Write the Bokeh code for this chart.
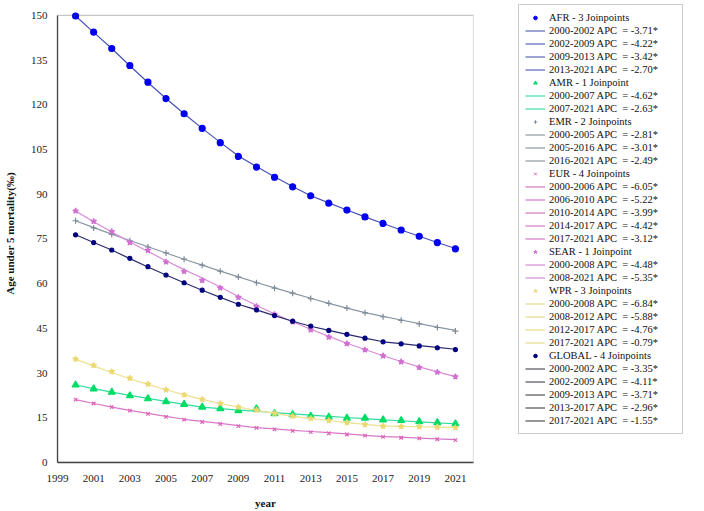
from bokeh.plotting import figure
from bokeh.layouts import row
from bokeh.models import Legend, LegendItem, FixedTicker, ColumnDataSource, BoxAnnotation
from bokeh.embed import file_html
from bokeh.resources import INLINE

# Under-5 mortality (per mille) by WHO region, 2000-2021
years = list(range(2000, 2022))

regions = ["AFR", "AMR", "EMR", "EUR", "SEAR", "WPR", "GLOBAL"]

# observed rates
afr_obs = [149.8, 144.4, 138.9, 133.2, 127.6, 122.1, 117.0, 112.1, 107.3, 102.7, 99.1,
           95.7, 92.5, 89.5, 87.0, 84.7, 82.4, 80.2, 78.0, 75.9, 73.8, 71.7]
amr_obs = [26.0, 24.7, 23.6, 22.4, 21.4, 20.4, 19.5, 18.6, 18.1, 17.4, 18.0,
           16.4, 16.1, 15.6, 15.2, 14.9, 14.9, 14.3, 14.1, 13.7, 13.4, 13.0]
emr_obs = [81.1, 78.7, 76.5, 74.4, 72.3, 70.3, 68.2, 66.2, 64.2, 62.2, 60.3,
           58.5, 56.8, 55.0, 53.4, 51.8, 50.2, 48.9, 47.7, 46.5, 45.3, 44.1]
eur_obs = [21.1, 19.8, 18.6, 17.4, 16.3, 15.3, 14.4, 13.6, 12.9, 12.2, 11.6,
           11.1, 10.6, 10.2, 9.8, 9.4, 9.0, 8.6, 8.3, 8.1, 7.8, 7.5]
sear_obs = [84.4, 80.9, 77.5, 73.8, 71.2, 67.3, 64.1, 61.1, 58.6, 55.4, 52.4,
            49.7, 47.2, 44.5, 42.1, 39.9, 37.8, 35.8, 33.8, 31.9, 30.3, 28.8]
wpr_obs = [34.7, 32.6, 30.5, 28.3, 26.3, 24.4, 22.7, 21.2, 19.8, 18.6, 17.6,
           16.5, 15.6, 14.8, 14.1, 13.4, 12.7, 12.2, 12.1, 12.0, 11.9, 11.7]
global_obs = [76.4, 73.8, 71.3, 68.5, 65.7, 62.9, 60.3, 57.8, 55.4, 53.1, 51.2,
              49.3, 47.4, 45.8, 44.3, 43.0, 41.7, 40.5, 39.8, 39.1, 38.5, 37.9]

# joinpoint model fitted rates
afr_fit = [149.8, 144.3, 138.9, 133.1, 127.5, 122.1, 117.0, 112.1, 107.4, 102.8, 99.3,
           95.9, 92.6, 89.5, 87.1, 84.7, 82.4, 80.2, 78.0, 75.9, 73.8, 71.8]
amr_fit = [26.0, 24.8, 23.6, 22.5, 21.5, 20.5, 19.5, 18.6, 18.1, 17.6, 17.2,
           16.7, 16.3, 15.9, 15.5, 15.1, 14.7, 14.3, 14.0, 13.6, 13.3, 13.0]
emr_fit = [81.1, 78.8, 76.6, 74.5, 72.4, 70.3, 68.2, 66.2, 64.2, 62.3, 60.4,
           58.6, 56.8, 55.1, 53.4, 51.8, 50.3, 49.0, 47.8, 46.6, 45.4, 44.3]
eur_fit = [21.1, 19.8, 18.6, 17.5, 16.5, 15.5, 14.5, 13.8, 13.1, 12.4, 11.7,
           11.3, 10.8, 10.4, 10.0, 9.6, 9.1, 8.7, 8.5, 8.2, 7.9, 7.7]
sear_fit = [84.4, 80.8, 77.3, 74.0, 70.8, 67.7, 64.7, 61.9, 58.9, 55.7, 52.7,
            49.9, 47.2, 44.7, 42.3, 40.0, 37.9, 35.8, 33.9, 32.1, 30.4, 28.8]
wpr_fit = [34.7, 32.4, 30.2, 28.1, 26.2, 24.4, 22.7, 21.2, 19.8, 18.6, 17.5,
           16.5, 15.5, 14.8, 14.1, 13.4, 12.8, 12.2, 12.1, 12.0, 11.9, 11.8]
global_fit = [76.4, 73.8, 71.3, 68.4, 65.6, 62.9, 60.3, 57.8, 55.4, 53.1, 51.2,
              49.3, 47.4, 45.7, 44.3, 43.0, 41.7, 40.5, 39.9, 39.2, 38.6, 38.0]

# joinpoint segments: (start year, end year, annual percent change)
afr_seg = [(2000, 2002, -3.71), (2002, 2009, -4.22), (2009, 2013, -3.42), (2013, 2021, -2.70)]
amr_seg = [(2000, 2007, -4.62), (2007, 2021, -2.63)]
emr_seg = [(2000, 2005, -2.81), (2005, 2016, -3.01), (2016, 2021, -2.49)]
eur_seg = [(2000, 2006, -6.05), (2006, 2010, -5.22), (2010, 2014, -3.99),
           (2014, 2017, -4.42), (2017, 2021, -3.12)]
sear_seg = [(2000, 2008, -4.48), (2008, 2021, -5.35)]
wpr_seg = [(2000, 2008, -6.84), (2008, 2012, -5.88), (2012, 2017, -4.76), (2017, 2021, -0.79)]
global_seg = [(2000, 2002, -3.35), (2002, 2009, -4.11), (2009, 2013, -3.71),
              (2013, 2017, -2.96), (2017, 2021, -1.55)]

x_ticks = list(range(1999, 2022, 2))
y_ticks = list(range(0, 151, 15))
x_lo, x_hi = 1999, 2022
y_lo, y_hi = 0, 150

styles = {
    "AFR": dict(marker="circle", mcolor="#0000ee", lcolor="#4552b8", kcolor="#5c66b8", size=6),
    "AMR": dict(marker="triangle", mcolor="#00dd66", lcolor="#30dc9c", kcolor="#44dca6", size=7),
    "EMR": dict(marker="cross", mcolor="#7d8a98", lcolor="#8a98a6", kcolor="#8a98a6", size=6),
    "EUR": dict(marker="x", mcolor="#e060b8", lcolor="#d678c8", kcolor="#d678c8", size=5),
    "SEAR": dict(marker="star", mcolor="#d070d0", lcolor="#d88ad8", kcolor="#d88ad8", size=6),
    "WPR": dict(marker="star", mcolor="#ecd870", lcolor="#eee08e", kcolor="#e8dc88", size=6),
    "GLOBAL": dict(marker="circle", mcolor="#000080", lcolor="#2a2a70", kcolor="#50505a", size=4),
}

series = {
    "AFR": (afr_obs, afr_fit, afr_seg),
    "AMR": (amr_obs, amr_fit, amr_seg),
    "EMR": (emr_obs, emr_fit, emr_seg),
    "EUR": (eur_obs, eur_fit, eur_seg),
    "SEAR": (sear_obs, sear_fit, sear_seg),
    "WPR": (wpr_obs, wpr_fit, wpr_seg),
    "GLOBAL": (global_obs, global_fit, global_seg),
}

SERIF = "Liberation Serif"

# main chart: the frame reaches a little above 150 so the legend panel beside
# it can start near the top of the page; the axes box is drawn at 0-150
TOP_PAD = 11  # pixels of frame above the 150 line
FRAME_H = 511 - 4 - 45
y_top = y_hi * FRAME_H / (FRAME_H - TOP_PAD)

p = figure(width=480, height=511, x_range=(x_lo, x_hi), y_range=(y_lo, y_top),
           output_backend="svg", toolbar_location=None,
           min_border_left=48, min_border_right=7, min_border_top=4,
           min_border_bottom=45)
p.xgrid.visible = False
p.ygrid.visible = False
p.outline_line_color = None
p.add_layout(BoxAnnotation(left=x_lo, right=x_hi, bottom=y_lo, top=y_hi,
                           fill_alpha=0, line_color="#444444", line_width=1.3))

# legend panel: a bare, untitled figure whose key glyphs share the chart's
# data sources (its 0-1 ranges keep those glyphs out of view)
lg = figure(width=224, height=511, x_range=(0, 1), y_range=(0, 1),
            x_axis_type=None, y_axis_type=None,
            output_backend="svg", toolbar_location=None,
            min_border_left=38, min_border_right=0, min_border_top=4,
            min_border_bottom=0)
lg.title_location = None
lg.xgrid.visible = False
lg.ygrid.visible = False
lg.outline_line_color = None

items = []
for name in regions:
    obs, fit, segs = series[name]
    st = styles[name]
    seg_keys = []
    for (a, b, apc) in segs:
        i0, i1 = years.index(a), years.index(b)
        src = ColumnDataSource(dict(x=years[i0:i1 + 1], y=fit[i0:i1 + 1]))
        p.line("x", "y", source=src, line_color=st["lcolor"], line_width=1.2)
        key = lg.line("x", "y", source=src, line_color=st["kcolor"], line_width=1.2)
        seg_keys.append((f"{a}-{b} APC \u00a0= {apc:.2f}*", key))
    obs_src = ColumnDataSource(dict(x=years, y=obs))
    p.scatter("x", "y", source=obs_src, marker=st["marker"], size=st["size"],
              fill_color=st["mcolor"], line_color=st["mcolor"], line_width=1.2)
    pts_key = lg.scatter("x", "y", source=obs_src, marker=st["marker"], size=st["size"],
                         fill_color=st["mcolor"], line_color=st["mcolor"], line_width=1)
    n_jp = len(segs) - 1
    title = f"{name} - {n_jp} Joinpoint" + ("s" if n_jp != 1 else "")
    items.append(LegendItem(label=title, renderers=[pts_key]))
    for lab, r in seg_keys:
        items.append(LegendItem(label=lab, renderers=[r]))

legend = Legend(items=items, location="top_left")
legend.label_text_font = SERIF
legend.label_text_font_size = "10.5px"
legend.label_text_color = "#111111"
legend.label_height = 13
legend.glyph_height = 9
legend.glyph_width = 20
legend.label_standoff = 4
legend.label_width = 127
legend.spacing = 0
legend.padding = 6
legend.margin = 0
legend.border_line_color = "#9a9a9a"
legend.border_line_width = 1
legend.background_fill_alpha = 1.0
lg.add_layout(legend)

for ax in (p.xaxis, p.yaxis):
    ax.axis_line_color = "#444444"
    ax.axis_line_width = 1.3
    ax.major_tick_line_color = None
    ax.minor_tick_line_color = None
    ax.major_label_text_font = SERIF
    ax.major_label_text_font_size = "11px"
    ax.major_label_text_color = "#222222"
    ax.axis_label_text_font = SERIF
    ax.axis_label_text_font_size = "11px"
    ax.axis_label_text_font_style = "bold"
    ax.axis_label_text_color = "#111111"

p.xaxis.ticker = FixedTicker(ticks=x_ticks)
p.yaxis.ticker = FixedTicker(ticks=y_ticks)
p.yaxis.bounds = (y_lo, y_hi)
p.xaxis.axis_label = "year"
p.yaxis.axis_label = "Age under 5 mortality(\u2030)"
p.xaxis.major_label_standoff = 6
p.yaxis.major_label_standoff = 4
p.xaxis.axis_label_standoff = 12
p.yaxis.axis_label_standoff = 12

layout = row(p, lg)
open("out.html", "w").write(file_html(layout, INLINE))
